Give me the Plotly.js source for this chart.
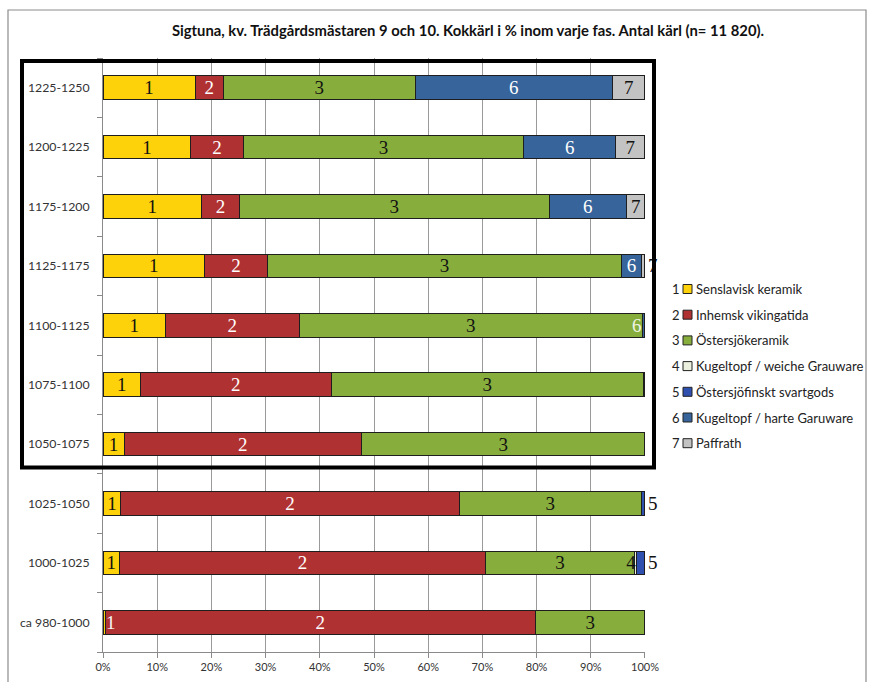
<!DOCTYPE html>
<html>
<head>
<meta charset="utf-8">
<script src="https://cdn.plot.ly/plotly-3.0.1.min.js"></script>
<style>html,body{margin:0;padding:0;background:#fff;}#chart{width:870px;height:682px;}</style>
</head>
<body>
<div id="chart"></div>
<script>
// Categories, bottom to top
const categories = ["ca 980-1000","1000-1025","1025-1050","1050-1075","1075-1100","1100-1125","1125-1175","1175-1200","1200-1225","1225-1250"];

const seriesNumbers = ["1","2","3","4","5","6","7"];
const seriesNames = ["Senslavisk keramik","Inhemsk vikingatida","Östersjökeramik","Kugeltopf / weiche Grauware","Östersjöfinskt svartgods","Kugeltopf / harte Garuware","Paffrath"];

// x-axis ticks
const xTickValues = [0, 10, 20, 30, 40, 50, 60, 70, 80, 90, 100];
const xTickLabels = ["0%","10%","20%","30%","40%","50%","60%","70%","80%","90%","100%"];

// Percentages per phase (bottom to top)
const senslavisk   = [0.4, 3.0, 3.3, 3.9, 6.9, 11.5, 18.7, 18.2, 16.2, 17.0];
const inhemsk      = [79.4, 67.6, 62.4, 43.8, 35.2, 24.7, 11.7, 7.0, 9.7, 5.2];
const ostersjo     = [20.2, 27.4, 33.6, 52.3, 57.6, 63.3, 65.2, 57.1, 51.7, 35.4];
const kugelWeiche  = [null, 0.4, null, null, 0.3, null, null, null, null, null];
const svartgods    = [null, 1.6, 0.7, null, null, null, null, null, null, null];
const kugelHarte   = [null, null, null, null, null, 0.5, 3.8, 14.3, 17.0, 36.4];
const paffrath     = [null, null, null, null, null, null, 0.6, 3.4, 5.4, 6.0];

const seriesValues = [senslavisk, inhemsk, ostersjo, kugelWeiche, svartgods, kugelHarte, paffrath];

// label handling: [seriesIndex, categoryIndex]
const hiddenLabels = [[3,4]];
const outsideLabels = [[4,1],[4,2],[6,6]];
// labels of tiny segments that spill over neighbouring segments (drawn on top)
const spillLabels = [[0,0,'start','#f4f4f4'],[5,5,'end','#f0f5e6']];

const colors = ["#FDD20B","#B03131","#87AD3D","#EBF1DE","#2F50AE","#36649B","#C3C3C3"];
const textColors = ["#111","#ffffff","#111","#111","#111","#ffffff","#111"];

function has(list, s, c){ return list.some(p => p[0]===s && p[1]===c); }

const traces = seriesValues.map((vals, s) => ({
  type: 'bar',
  orientation: 'h',
  y: categories,
  x: vals,
  name: seriesNames[s],
  marker: {color: colors[s], line: {color: '#1e1e1e', width: 1}},
  text: vals.map((v,c) => (v==null || has(hiddenLabels,s,c) || has(spillLabels,s,c)) ? '' : seriesNumbers[s]),
  textposition: vals.map((v,c) => has(outsideLabels,s,c) ? 'outside' : 'inside'),
  insidetextanchor: s===3 ? 'end' : 'middle',
  textangle: 0,
  constraintext: 'none',
  cliponaxis: false,
  textfont: {family: 'Liberation Serif, serif', size: 19,
    color: vals.map((v,c) => has(outsideLabels,s,c) ? '#111' : textColors[s])},
  hoverinfo: 'skip',
  showlegend: false
}));

// geometry helpers (pixel -> paper)
const L = 103, R = 225, T = 58, B = 30, W = 870, H = 682;
const pw = W - L - R, ph = H - T - B;
const px = x => (x - L) / pw;
const py = y => (H - B - y) / ph;

const shapes = [
  {type:'rect', xref:'paper', yref:'paper', x0:px(8), x1:px(866), y0:py(700), y1:py(10),
   line:{color:'#8c8c8c', width:1.2}, fillcolor:'rgba(0,0,0,0)', layer:'below'},
  {type:'rect', xref:'paper', yref:'paper', x0:px(22), x1:px(654), y0:py(467.5), y1:py(61),
   line:{color:'#000', width:4}, fillcolor:'rgba(0,0,0,0)', layer:'above'}
];
const annotations = [];

// spill labels: positioned from the data (start or end of the segment)
spillLabels.forEach(([s, c, side, col]) => {
  let start = 0;
  for (let k = 0; k < s; k++) start += seriesValues[k][c] || 0;
  const end = start + seriesValues[s][c];
  annotations.push({xref:'x', yref:'y', x: end, y: categories[c],
    text: seriesNumbers[s], showarrow:false, xanchor: side === 'start' ? 'left' : 'right',
    xshift: -1, yanchor:'middle',
    font:{family:'Liberation Serif, serif', size:19, color: col}});
});

seriesNames.forEach((nm, i) => {
  const yc = 289 + i * 25.7;
  shapes.push({type:'rect', xref:'paper', yref:'paper', x0:px(683), x1:px(692), y0:py(yc+4.5), y1:py(yc-4.5),
    line:{color:'#222', width:1}, fillcolor: colors[i], layer:'above'});
  annotations.push({xref:'paper', yref:'paper', x:px(675.5), y:py(yc), text: seriesNumbers[i], showarrow:false,
    xanchor:'center', yanchor:'middle', font:{family:'Lato, sans-serif', size:13, color:'#222'}});
  annotations.push({xref:'paper', yref:'paper', x:px(694), y:py(yc), text: nm, showarrow:false,
    xanchor:'left', yanchor:'middle', font:{family:'Lato, sans-serif', size:13, color:'#222'}});
});

const layout = {
  width: W, height: H,
  margin: {l: L, r: R, t: T, b: B, pad: 0},
  paper_bgcolor: '#fff', plot_bgcolor: '#fff',
  barmode: 'stack',
  bargap: 0.6,
  showlegend: false,
  title: {text: 'Sigtuna, kv. Trädgårdsmästaren 9 och 10. Kokkärl i % inom varje fas. Antal kärl (n= 11 820).',
    xref: 'container', yref: 'container', x: 468/870, y: 1 - 31/682, xanchor: 'center', yanchor: 'middle',
    font: {family: 'Lato, sans-serif', size: 14.8, color: '#111', weight: 'bold'}},
  xaxis: {range: [0, 100.001], tickmode: 'array', tickvals: xTickValues, ticktext: xTickLabels,
    showgrid: true, gridcolor: '#9a9a9a', gridwidth: 1,
    showline: true, linecolor: '#8a8a8a', linewidth: 1, ticks: 'outside', ticklen: 5, tickcolor: '#8a8a8a',
    zeroline: false, tickfont: {family: 'Lato, sans-serif', size: 11, color: '#333'}, fixedrange: true},
  yaxis: {type: 'category', categoryorder: 'array', categoryarray: categories, showgrid: false,
    showline: true, linecolor: '#8a8a8a', linewidth: 1, ticks: 'outside', ticklen: 5, tickcolor: '#8a8a8a',
    tickson: 'boundaries', tickfont: {family: 'Lato, sans-serif', size: 12.3, color: '#333'}, ticklabelstandoff: 10, fixedrange: true},
  shapes: shapes,
  annotations: annotations
};

Plotly.newPlot('chart', traces, layout, {displayModeBar: false, staticPlot: true});
</script>
</body>
</html>
